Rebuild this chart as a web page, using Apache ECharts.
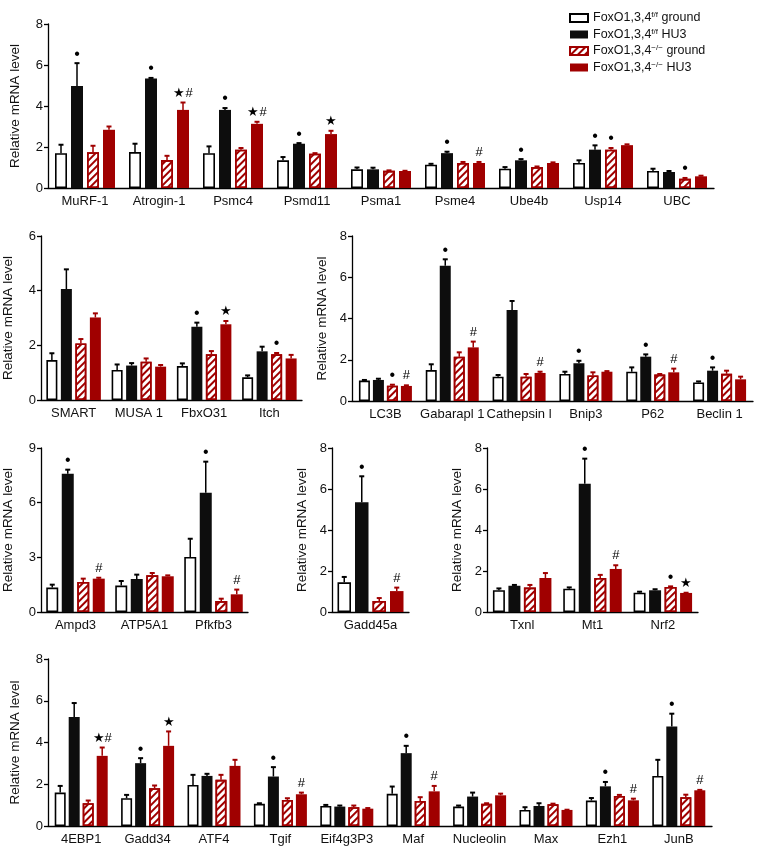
<!DOCTYPE html>
<html><head><meta charset="utf-8">
<script src="https://cdn.jsdelivr.net/npm/echarts@6/dist/echarts.min.js"></script>
<style>html,body{margin:0;padding:0;background:#fff}#c{width:757px;height:850px}</style>
</head><body><div id="c"></div><script>
// ---------- DATA ----------
const seriesNames = ['FoxO1,3,4 f/f ground', 'FoxO1,3,4 f/f HU3', 'FoxO1,3,4 -/- ground', 'FoxO1,3,4 -/- HU3'];
const yAxisTitle = 'Relative mRNA level';

// Panel A
const catsA = ['MuRF-1', 'Atrogin-1', 'Psmc4', 'Psmd11', 'Psma1', 'Psme4', 'Ube4b', 'Usp14', 'UBC'];
const ffGroundA = [1.70, 1.75, 1.70, 1.35, 0.91, 1.14, 0.94, 1.22, 0.83];
const ffHU3A    = [4.98, 5.34, 3.81, 2.16, 0.91, 1.70, 1.35, 1.87, 0.78];
const koGroundA = [1.74, 1.36, 1.87, 1.67, 0.84, 1.22, 1.02, 1.87, 0.45];
const koHU3A    = [2.84, 3.81, 3.13, 2.63, 0.83, 1.22, 1.22, 2.09, 0.57];
const ffGroundErrA = [0.41, 0.41, 0.33, 0.16, 0.09, 0.04, 0.08, 0.13, 0.11];
const ffHU3ErrA    = [1.11, 0.03, 0.09, 0.03, 0.08, 0.07, 0.06, 0.21, 0.05];
const koGroundErrA = [0.32, 0.21, 0.08, 0.03, 0.02, 0.05, 0.03, 0.08, 0.04];
const koHU3ErrA    = [0.16, 0.36, 0.10, 0.16, 0.01, 0.05, 0.03, 0.04, 0.03];
const sigFfHU3A    = ['•', '•', '•', '•', '', '•', '•', '•', ''];
const sigKoGroundA = ['', '', '', '', '', '', '', '•', '•'];
const sigKoHU3A    = ['', '★#', '★#', '★', '', '#', '', '', ''];

// Panel B
const catsB = ['SMART', 'MUSA 1', 'FbxO31', 'Itch'];
const ffGroundB = [1.46, 1.10, 1.24, 0.83];
const ffHU3B    = [4.06, 1.26, 2.68, 1.78];
const koGroundB = [2.07, 1.40, 1.67, 1.67];
const koHU3B    = [3.02, 1.22, 2.77, 1.52];
const ffGroundErrB = [0.25, 0.20, 0.10, 0.07];
const ffHU3ErrB    = [0.72, 0.09, 0.15, 0.17];
const koGroundErrB = [0.16, 0.12, 0.12, 0.05];
const koHU3ErrB    = [0.15, 0.06, 0.12, 0.13];
const sigFfHU3B    = ['', '', '•', ''];
const sigKoGroundB = ['', '', '', '•'];
const sigKoHU3B    = ['', '', '★', ''];

// Panel C
const catsC = ['LC3B', 'Gabarapl 1', 'Cathepsin l', 'Bnip3', 'P62', 'Beclin 1'];
const ffGroundC = [0.99, 1.50, 1.18, 1.31, 1.42, 0.90];
const ffHU3C    = [1.02, 6.56, 4.41, 1.83, 2.15, 1.47];
const koGroundC = [0.74, 2.15, 1.18, 1.24, 1.28, 1.32];
const koHU3C    = [0.73, 2.60, 1.36, 1.42, 1.39, 1.05];
const ffGroundErrC = [0.03, 0.28, 0.08, 0.11, 0.21, 0.05];
const ffHU3ErrC    = [0.06, 0.31, 0.44, 0.12, 0.11, 0.16];
const koGroundErrC = [0.05, 0.21, 0.13, 0.15, 0.03, 0.15];
const koHU3ErrC    = [0.03, 0.28, 0.06, 0.03, 0.18, 0.13];
const sigFfHU3C    = ['', '•', '', '•', '•', '•'];
const sigKoGroundC = ['•', '', '', '', '', ''];
const sigKoHU3C    = ['#', '#', '#', '', '#', ''];

// Panel D
const catsD = ['Ampd3', 'ATP5A1', 'Pfkfb3'];
const ffGroundD = [1.34, 1.45, 3.02];
const ffHU3D    = [7.59, 1.81, 6.55];
const koGroundD = [1.65, 2.01, 0.60];
const koHU3D    = [1.83, 1.96, 0.97];
const ffGroundErrD = [0.16, 0.25, 1.00];
const ffHU3ErrD    = [0.22, 0.24, 1.70];
const koGroundErrD = [0.18, 0.13, 0.13];
const koHU3ErrD    = [0.05, 0.05, 0.26];
const sigFfHU3D    = ['•', '', '•'];
const sigKoGroundD = ['', '', ''];
const sigKoHU3D    = ['#', '', '#'];

// Panel E
const catsE = ['Gadd45a'];
const ffGroundE = [1.45];
const ffHU3E    = [5.35];
const koGroundE = [0.54];
const koHU3E    = [1.02];
const ffGroundErrE = [0.26];
const ffHU3ErrE    = [1.27];
const koGroundErrE = [0.14];
const koHU3ErrE    = [0.17];
const sigFfHU3E    = ['•'];
const sigKoGroundE = [''];
const sigKoHU3E    = ['#'];

// Panel F
const catsF = ['Txnl', 'Mt1', 'Nrf2'];
const ffGroundF = [1.06, 1.14, 0.94];
const ffHU3F    = [1.28, 6.26, 1.06];
const koGroundF = [1.19, 1.66, 1.22];
const koHU3F    = [1.66, 2.10, 0.93];
const ffGroundErrF = [0.09, 0.06, 0.05];
const ffHU3ErrF    = [0.04, 1.22, 0.05];
const koGroundErrF = [0.13, 0.15, 0.03];
const koHU3ErrF    = [0.24, 0.18, 0.01];
const sigFfHU3F    = ['', '•', ''];
const sigKoGroundF = ['', '', '•'];
const sigKoHU3F    = ['', '#', '★'];

// Panel G
const catsG = ['4EBP1', 'Gadd34', 'ATF4', 'Tgif', 'Eif4g3P3', 'Maf', 'Nucleolin', 'Max', 'Ezh1', 'JunB'];
const ffGroundG = [1.60, 1.33, 1.97, 1.06, 0.96, 1.54, 0.93, 0.77, 1.22, 2.40];
const ffHU3G    = [5.22, 3.01, 2.40, 2.37, 0.93, 3.49, 1.41, 0.96, 1.90, 4.77];
const koGroundG = [1.09, 1.81, 2.21, 1.25, 0.90, 1.20, 1.06, 1.04, 1.44, 1.38];
const koHU3G    = [3.36, 3.84, 2.88, 1.52, 0.83, 1.66, 1.47, 0.77, 1.23, 1.71];
const ffGroundErrG = [0.32, 0.16, 0.48, 0.03, 0.05, 0.35, 0.05, 0.13, 0.12, 0.77];
const ffHU3ErrG    = [0.67, 0.24, 0.10, 0.45, 0.05, 0.35, 0.19, 0.13, 0.21, 0.61];
const koGroundErrG = [0.13, 0.13, 0.24, 0.08, 0.08, 0.18, 0.03, 0.03, 0.05, 0.12];
const koHU3ErrG    = [0.40, 0.69, 0.29, 0.08, 0.03, 0.26, 0.08, 0.01, 0.08, 0.02];
const sigFfHU3G    = ['', '•', '', '•', '', '•', '', '', '•', '•'];
const sigKoGroundG = ['', '', '', '', '', '', '', '', '', ''];
const sigKoHU3G    = ['★#', '★', '', '#', '', '#', '', '', '#', '#'];

const yTicksA = [0, 2, 4, 6, 8];
const yTicksB = [0, 2, 4, 6];
const yTicksC = [0, 2, 4, 6, 8];
const yTicksD = [0, 3, 6, 9];
const yTicksE = [0, 2, 4, 6, 8];
const yTicksF = [0, 2, 4, 6, 8];
const yTicksG = [0, 2, 4, 6, 8];

// ---------- LAYOUT / STYLE ----------
const FONT = '"Liberation Sans", Arial, Helvetica, sans-serif';
const RED = '#a00000';
const BLACK = '#0d0d0d';
const none = c => c.map(() => '');

const panels = [
  {cats: catsA, means: [ffGroundA, ffHU3A, koGroundA, koHU3A], errs: [ffGroundErrA, ffHU3ErrA, koGroundErrA, koHU3ErrA],
   sigs: [none(catsA), sigFfHU3A, sigKoGroundA, sigKoHU3A], ticks: yTicksA,
   grid: {left: 38, top: 24, width: 676, height: 164}, bw: 12, gap: 4, nameGap: 26},
  {cats: catsB, means: [ffGroundB, ffHU3B, koGroundB, koHU3B], errs: [ffGroundErrB, ffHU3ErrB, koGroundErrB, koHU3ErrB],
   sigs: [none(catsB), sigFfHU3B, sigKoGroundB, sigKoHU3B], ticks: yTicksB,
   grid: {left: 38, top: 236, width: 264, height: 164}, bw: 11, gap: 3.5, nameGap: 26},
  {cats: catsC, means: [ffGroundC, ffHU3C, koGroundC, koHU3C], errs: [ffGroundErrC, ffHU3ErrC, koGroundErrC, koHU3ErrC],
   sigs: [none(catsC), sigFfHU3C, sigKoGroundC, sigKoHU3C], ticks: yTicksC,
   grid: {left: 352, top: 236, width: 401, height: 165}, bw: 11, gap: 3, nameGap: 22},
  {cats: catsD, means: [ffGroundD, ffHU3D, koGroundD, koHU3D], errs: [ffGroundErrD, ffHU3ErrD, koGroundErrD, koHU3ErrD],
   sigs: [none(catsD), sigFfHU3D, sigKoGroundD, sigKoHU3D], ticks: yTicksD,
   grid: {left: 38, top: 448, width: 210, height: 164}, bw: 12, gap: 3.5, nameGap: 26},
  {cats: catsE, means: [ffGroundE, ffHU3E, koGroundE, koHU3E], errs: [ffGroundErrE, ffHU3ErrE, koGroundErrE, koHU3ErrE],
   sigs: [none(catsE), sigFfHU3E, sigKoGroundE, sigKoHU3E], ticks: yTicksE,
   grid: {left: 332, top: 448, width: 77, height: 164}, bw: 13.5, gap: 4, nameGap: 23},
  {cats: catsF, means: [ffGroundF, ffHU3F, koGroundF, koHU3F], errs: [ffGroundErrF, ffHU3ErrF, koGroundErrF, koHU3ErrF],
   sigs: [none(catsF), sigFfHU3F, sigKoGroundF, sigKoHU3F], ticks: yTicksF,
   grid: {left: 487, top: 448, width: 211, height: 164}, bw: 12, gap: 3.5, nameGap: 23},
  {cats: catsG, means: [ffGroundG, ffHU3G, koGroundG, koHU3G], errs: [ffGroundErrG, ffHU3ErrG, koGroundErrG, koHU3ErrG],
   sigs: [none(catsG), sigFfHU3G, sigKoGroundG, sigKoHU3G], ticks: yTicksG,
   grid: {left: 38, top: 659, width: 674, height: 167}, bw: 11, gap: 3, nameGap: 26}
];

const hatch = {symbol: 'rect', symbolSize: 1, color: RED, dashArrayX: [1, 0], dashArrayY: [2, 3], rotation: -Math.PI / 4};
const barStyles = [
  {color: '#ffffff', borderColor: '#000', borderWidth: 1.6},
  {color: BLACK},
  {color: '#ffffff', borderColor: RED, borderWidth: 1.6, decal: hatch},
  {color: RED}
];

function makeRender(p) {
  return function (params, api) {
    const cat = api.value(0), g = api.value(1), mean = api.value(2), err = api.value(3);
    const base = api.coord([cat, mean]);
    const top = api.coord([cat, mean + err]);
    const x = base[0] + (g - 1.5) * (p.bw + p.gap);
    const col = g >= 2 ? RED : '#000';
    const children = [
      {type: 'line', shape: {x1: x, y1: base[1], x2: x, y2: top[1]}, style: {stroke: col, lineWidth: 1.5}},
      {type: 'line', shape: {x1: x - 2.5, y1: top[1], x2: x + 2.5, y2: top[1]}, style: {stroke: col, lineWidth: 2}}
    ];
    const s = p.sigs[g][cat];
    if (s) {
      const isDot = s === '•';
      children.push({type: 'text', style: {text: s, x: x, y: top[1] - (isDot ? 1 : 3), align: 'center', verticalAlign: 'bottom',
        fontSize: isDot ? 16 : 13, fill: '#000', fontFamily: FONT}});
    }
    return {type: 'group', children: children};
  };
}

const grids = [], xAxes = [], yAxes = [], series = [];
panels.forEach((p, pi) => {
  grids.push(Object.assign({containLabel: false}, p.grid));
  xAxes.push({
    type: 'category', gridIndex: pi, data: p.cats, boundaryGap: true,
    axisLine: {lineStyle: {color: '#000', width: 1.3}},
    axisTick: {alignWithLabel: true, length: 4, lineStyle: {color: '#000', width: 1.3}},
    axisLabel: {interval: 0, color: '#111', fontSize: 13, fontFamily: FONT, margin: 7},
    splitLine: {show: false}
  });
  const t = p.ticks;
  yAxes.push({
    type: 'value', gridIndex: pi, min: t[0], max: t[t.length - 1], interval: t[1] - t[0],
    name: yAxisTitle, nameLocation: 'middle', nameGap: p.nameGap,
    nameTextStyle: {color: '#111', fontSize: 13.5, fontFamily: FONT},
    axisLine: {show: true, lineStyle: {color: '#000', width: 1.3}},
    axisTick: {show: true, length: 4, lineStyle: {color: '#000', width: 1.3}},
    axisLabel: {color: '#111', fontSize: 13, fontFamily: FONT, margin: 5},
    splitLine: {show: false}
  });
  for (let g = 0; g < 4; g++) {
    series.push({
      type: 'bar', name: seriesNames[g], xAxisIndex: pi, yAxisIndex: pi,
      data: p.means[g], barWidth: p.bw, barGap: (p.gap / p.bw * 100) + '%',
      itemStyle: barStyles[g], emphasis: {disabled: true}, z: 2
    });
  }
  const eb = [];
  for (let g = 0; g < 4; g++) {
    p.cats.forEach((c, ci) => eb.push([ci, g, p.means[g][ci], p.errs[g][ci]]));
  }
  series.push({
    type: 'custom', name: 'err' + pi, xAxisIndex: pi, yAxisIndex: pi, data: eb,
    encode: {x: 0, y: 2}, renderItem: makeRender(p), z: 3, silent: true, clip: false
  });
});

const legendLabels = {};
legendLabels[seriesNames[0]] = '{a|FoxO1,3,4}{s|f/f}{a| ground}';
legendLabels[seriesNames[1]] = '{a|FoxO1,3,4}{s|f/f}{a| HU3}';
legendLabels[seriesNames[2]] = '{a|FoxO1,3,4}{s|\u2212/\u2212}{a| ground}';
legendLabels[seriesNames[3]] = '{a|FoxO1,3,4}{s|\u2212/\u2212}{a| HU3}';

const chart = echarts.init(document.getElementById('c'), null, {renderer: 'canvas'});
chart.setOption({
  animation: false,
  backgroundColor: '#fff',
  textStyle: {fontFamily: FONT},
  legend: {
    data: seriesNames.map(n => ({name: n, icon: 'rect'})), orient: 'vertical', left: 564, top: 6,
    itemWidth: 18, itemHeight: 8, itemGap: 2.5, selectedMode: false,
    formatter: n => legendLabels[n],
    textStyle: {
      color: '#111', fontFamily: FONT,
      rich: {
        a: {fontSize: 12.5, lineHeight: 14, fontFamily: FONT, color: '#111'},
        s: {fontSize: 8, lineHeight: 14, verticalAlign: 'top', fontFamily: FONT, color: '#111', padding: [0, 0, 6, 0]}
      }
    }
  },
  grid: grids, xAxis: xAxes, yAxis: yAxes, series: series
});
</script></body></html>
